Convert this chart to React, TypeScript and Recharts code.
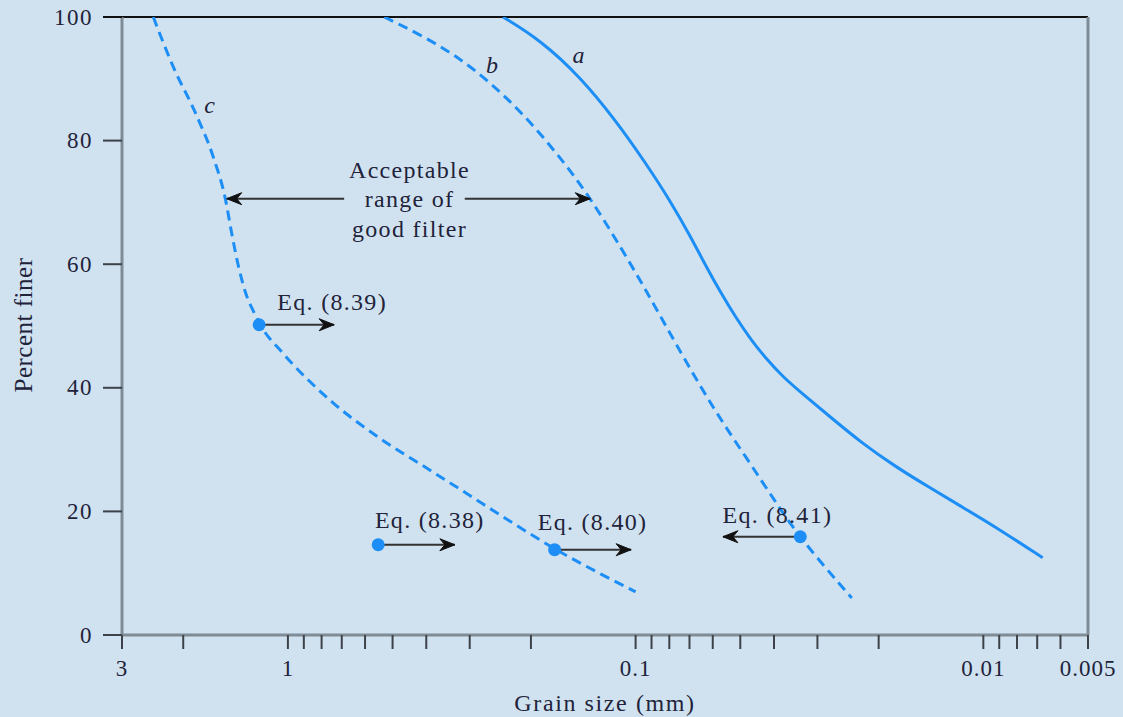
import React from 'react';
import { ComposedChart, Line, Scatter, XAxis, YAxis, ReferenceLine, Label } from 'recharts';

const FONT = 'Liberation Serif, Times New Roman, Times, serif';
const BLUE = '#1c8ef6';
const INK = '#22223a';
const AXIS = '#7f8b95';
const TICK = '#3c4248';

// axis ticks
const xMajorTicks = [3, 1, 0.1, 0.01, 0.005];
const xMinorTicks = [2, 0.9, 0.8, 0.7, 0.6, 0.5, 0.4, 0.3, 0.2, 0.09, 0.08, 0.07, 0.06, 0.05, 0.04, 0.03, 0.02, 0.009, 0.008, 0.007, 0.006];
const xTickLabels: Record<string, string> = { '3': '3', '1': '1', '0.1': '0.1', '0.01': '0.01', '0.005': '0.005' };
const yTicks = [0, 20, 40, 60, 80, 100];

// curve a (solid)
const curveASize = [0.2407, 0.1882, 0.1442, 0.1142, 0.0936, 0.0792, 0.0694, 0.0628, 0.0568, 0.0514, 0.0465, 0.0421, 0.0376, 0.0334, 0.0273, 0.0224, 0.01796, 0.01432, 0.0115, 0.00923, 0.00675];
const curveAFiner = [100, 96.3, 90.3, 83.3, 76.4, 70.1, 64.4, 59.7, 55.3, 51.3, 47.7, 44.7, 41.7, 39.2, 35.1, 31.1, 27.3, 23.9, 20.7, 17.5, 12.5];

// curve b (dashed)
const curveBSize = [0.528, 0.418, 0.3313, 0.2625, 0.2079, 0.1647, 0.1349, 0.1105, 0.0923, 0.0777, 0.0595, 0.0475, 0.0399, 0.0334, 0.0239];
const curveBFiner = [100, 97.2, 93.9, 89.5, 84.0, 77.3, 70.7, 62.8, 55.3, 47.7, 36.4, 28.3, 21.8, 15.4, 6.0];

// curve c (dashed)
const curveCSize = [2.439, 2.135, 1.832, 1.636, 1.511, 1.451, 1.385, 1.322, 1.254, 1.189, 1.041, 0.746, 0.546, 0.391, 0.314, 0.2297, 0.1726, 0.1262, 0.1];
const curveCFiner = [100, 91.9, 84.1, 77.2, 70.4, 65.0, 59.5, 55.3, 52.3, 49.8, 45.8, 37.7, 31.9, 26.7, 23.3, 18.4, 14.1, 9.9, 7.0];

// criteria points
const eqNames = ['Eq. (8.39)', 'Eq. (8.38)', 'Eq. (8.40)', 'Eq. (8.41)'];
const eqSize = [1.21, 0.55, 0.171, 0.0336];
const eqFiner = [50.2, 14.6, 13.8, 15.9];
const eqArrowTip = [0.736, 0.331, 0.103, 0.0561];
const eqLabelSize = [0.746, 0.391, 0.133, 0.0391];
const eqLabelFiner = [53.9, 18.6, 18.3, 19.4];

// acceptable range annotation
const rangeLines = ['Acceptable', 'range of', 'good filter'];
const rangeLineSize = [0.447, 0.447, 0.447];
const rangeLineFiner = [75.2, 70.6, 65.7];
const rangeArrowFiner = 70.6;
const rangeArrowTail = [0.689, 0.31];
const rangeArrowTip = [1.5, 0.135];

// curve names
const curveNames = ['a', 'b', 'c'];
const curveNameSize = [0.146, 0.259, 1.68];
const curveNameFiner = [93.9, 92.2, 85.8];

const zip = (s: number[], f: number[]) => s.map((d, i) => ({ d, p: f[i] }));
const dataA = zip(curveASize, curveAFiner);
const dataB = zip(curveBSize, curveBFiner);
const dataC = zip(curveCSize, curveCFiner);
const eqDots = zip(eqSize, eqFiner);

const arrows = [
  ...eqSize.map((d, i) => ({ from: d, to: eqArrowTip[i], p: eqFiner[i] })),
  ...rangeArrowTail.map((d, i) => ({ from: d, to: rangeArrowTip[i], p: rangeArrowFiner })),
];
// reversed axis: a smaller size value lies further right on the page
const arrowHeads = arrows.map((a) => ({ d: a.to, p: a.p, dir: a.to < a.from ? 1 : -1 }));

const texts = [
  ...eqNames.map((t, i) => ({ d: eqLabelSize[i], p: eqLabelFiner[i], t, italic: false })),
  ...rangeLines.map((t, i) => ({ d: rangeLineSize[i], p: rangeLineFiner[i], t, italic: false })),
  ...curveNames.map((t, i) => ({ d: curveNameSize[i], p: curveNameFiner[i], t, italic: true })),
];

const XTick = (props: any) => {
  const { x, y, payload } = props;
  const v = payload.value;
  const label = xTickLabels[String(v)];
  return (
    <g>
      <line x1={x} y1={y} x2={x} y2={y + 14} stroke={TICK} strokeWidth={2} />
      {label && (
        <text x={x} y={y + 33} textAnchor="middle" dominantBaseline="central" style={{ fontFamily: FONT }} fontSize={23} letterSpacing={1} fill={INK}>
          {label}
        </text>
      )}
    </g>
  );
};

const YTick = (props: any) => {
  const { x, y, payload } = props;
  const v = payload.value;
  return (
    <g>
      <line x1={x - 19} y1={y} x2={x} y2={y} stroke={v === 100 ? '#111' : TICK} strokeWidth={2} />
      <text x={x - 29} y={y} textAnchor="end" dominantBaseline="central" style={{ fontFamily: FONT }} fontSize={23} letterSpacing={1.5} fill={INK}>
        {v}
      </text>
    </g>
  );
};

const ArrowHead = (props: any) => {
  const { cx, cy, payload } = props;
  const k = payload.dir; // 1 = points right on the page
  const path = `M ${cx} ${cy} L ${cx - k * 15} ${cy - 6} L ${cx - k * 10} ${cy} L ${cx - k * 15} ${cy + 6} Z`;
  return <path d={path} fill="#111" stroke="#111" strokeWidth={1} />;
};

const Dot = (props: any) => <circle cx={props.cx} cy={props.cy} r={6.5} fill={BLUE} />;

const TextMark = (props: any) => {
  const { cx, cy, payload } = props;
  return (
    <text
      x={cx}
      y={cy}
      textAnchor="middle"
      dominantBaseline="central"
      style={{ fontFamily: FONT }}
      fontSize={24}
      fontStyle={payload.italic ? 'italic' : 'normal'}
      letterSpacing={payload.italic ? 0 : 1.3}
      fill={INK}
    >
      {payload.t}
    </text>
  );
};

export default function App() {
  return (
    <div style={{ position: 'absolute', left: 0, top: 0, width: 1123, height: 717, background: '#d0e2f0' }}>
      <ComposedChart width={1123} height={717} margin={{ top: 17, right: 35, left: 0, bottom: 0 }}>
        <XAxis
          type="number"
          dataKey="d"
          scale="log"
          domain={[0.005, 3]}
          reversed
          allowDataOverflow
          ticks={[...xMajorTicks, ...xMinorTicks]}
          interval={0}
          height={82}
          tickSize={0}
          tickMargin={0}
          tickLine={false}
          axisLine={{ stroke: AXIS, strokeWidth: 3 }}
          tick={<XTick />}
        >
          <Label
            content={() => (
              <text x={605} y={703} textAnchor="middle" dominantBaseline="central" style={{ fontFamily: FONT }} fontSize={24} letterSpacing={1.6} fill={INK}>
                Grain size (mm)
              </text>
            )}
          />
        </XAxis>
        <YAxis
          type="number"
          dataKey="p"
          domain={[0, 100]}
          ticks={yTicks}
          interval={0}
          width={122}
          tickSize={0}
          tickMargin={0}
          tickLine={false}
          allowDataOverflow
          axisLine={{ stroke: AXIS, strokeWidth: 3 }}
          tick={<YTick />}
        >
          <Label
            content={() => (
              <text
                x={23}
                y={325}
                textAnchor="middle"
                dominantBaseline="central"
                transform="rotate(-90 23 325)"
                style={{ fontFamily: FONT }}
                fontSize={25}
                letterSpacing={0.5}
                fill={INK}
              >
                Percent finer
              </text>
            )}
          />
        </YAxis>
        <ReferenceLine y={100} stroke="#111" strokeWidth={2} />
        <ReferenceLine x={0.005} stroke={AXIS} strokeWidth={3} />

        <Line data={dataA} dataKey="p" type="basis" stroke={BLUE} strokeWidth={3} dot={false} isAnimationActive={false} />
        <Line data={dataB} dataKey="p" type="basis" stroke={BLUE} strokeWidth={3} strokeDasharray="10 6" dot={false} isAnimationActive={false} />
        <Line data={dataC} dataKey="p" type="monotone" stroke={BLUE} strokeWidth={3} strokeDasharray="10 6" dot={false} isAnimationActive={false} />

        {arrows.map((a, i) => (
          <Line
            key={'ar' + i}
            data={[{ d: a.from, p: a.p }, { d: a.to, p: a.p }]}
            dataKey="p"
            type="linear"
            stroke="#333"
            strokeWidth={2}
            dot={false}
            isAnimationActive={false}
          />
        ))}
        <Scatter data={arrowHeads} dataKey="p" shape={<ArrowHead />} isAnimationActive={false} />
        <Scatter data={eqDots} dataKey="p" shape={<Dot />} isAnimationActive={false} />
        <Scatter data={texts} dataKey="p" shape={<TextMark />} isAnimationActive={false} />
      </ComposedChart>
    </div>
  );
}
